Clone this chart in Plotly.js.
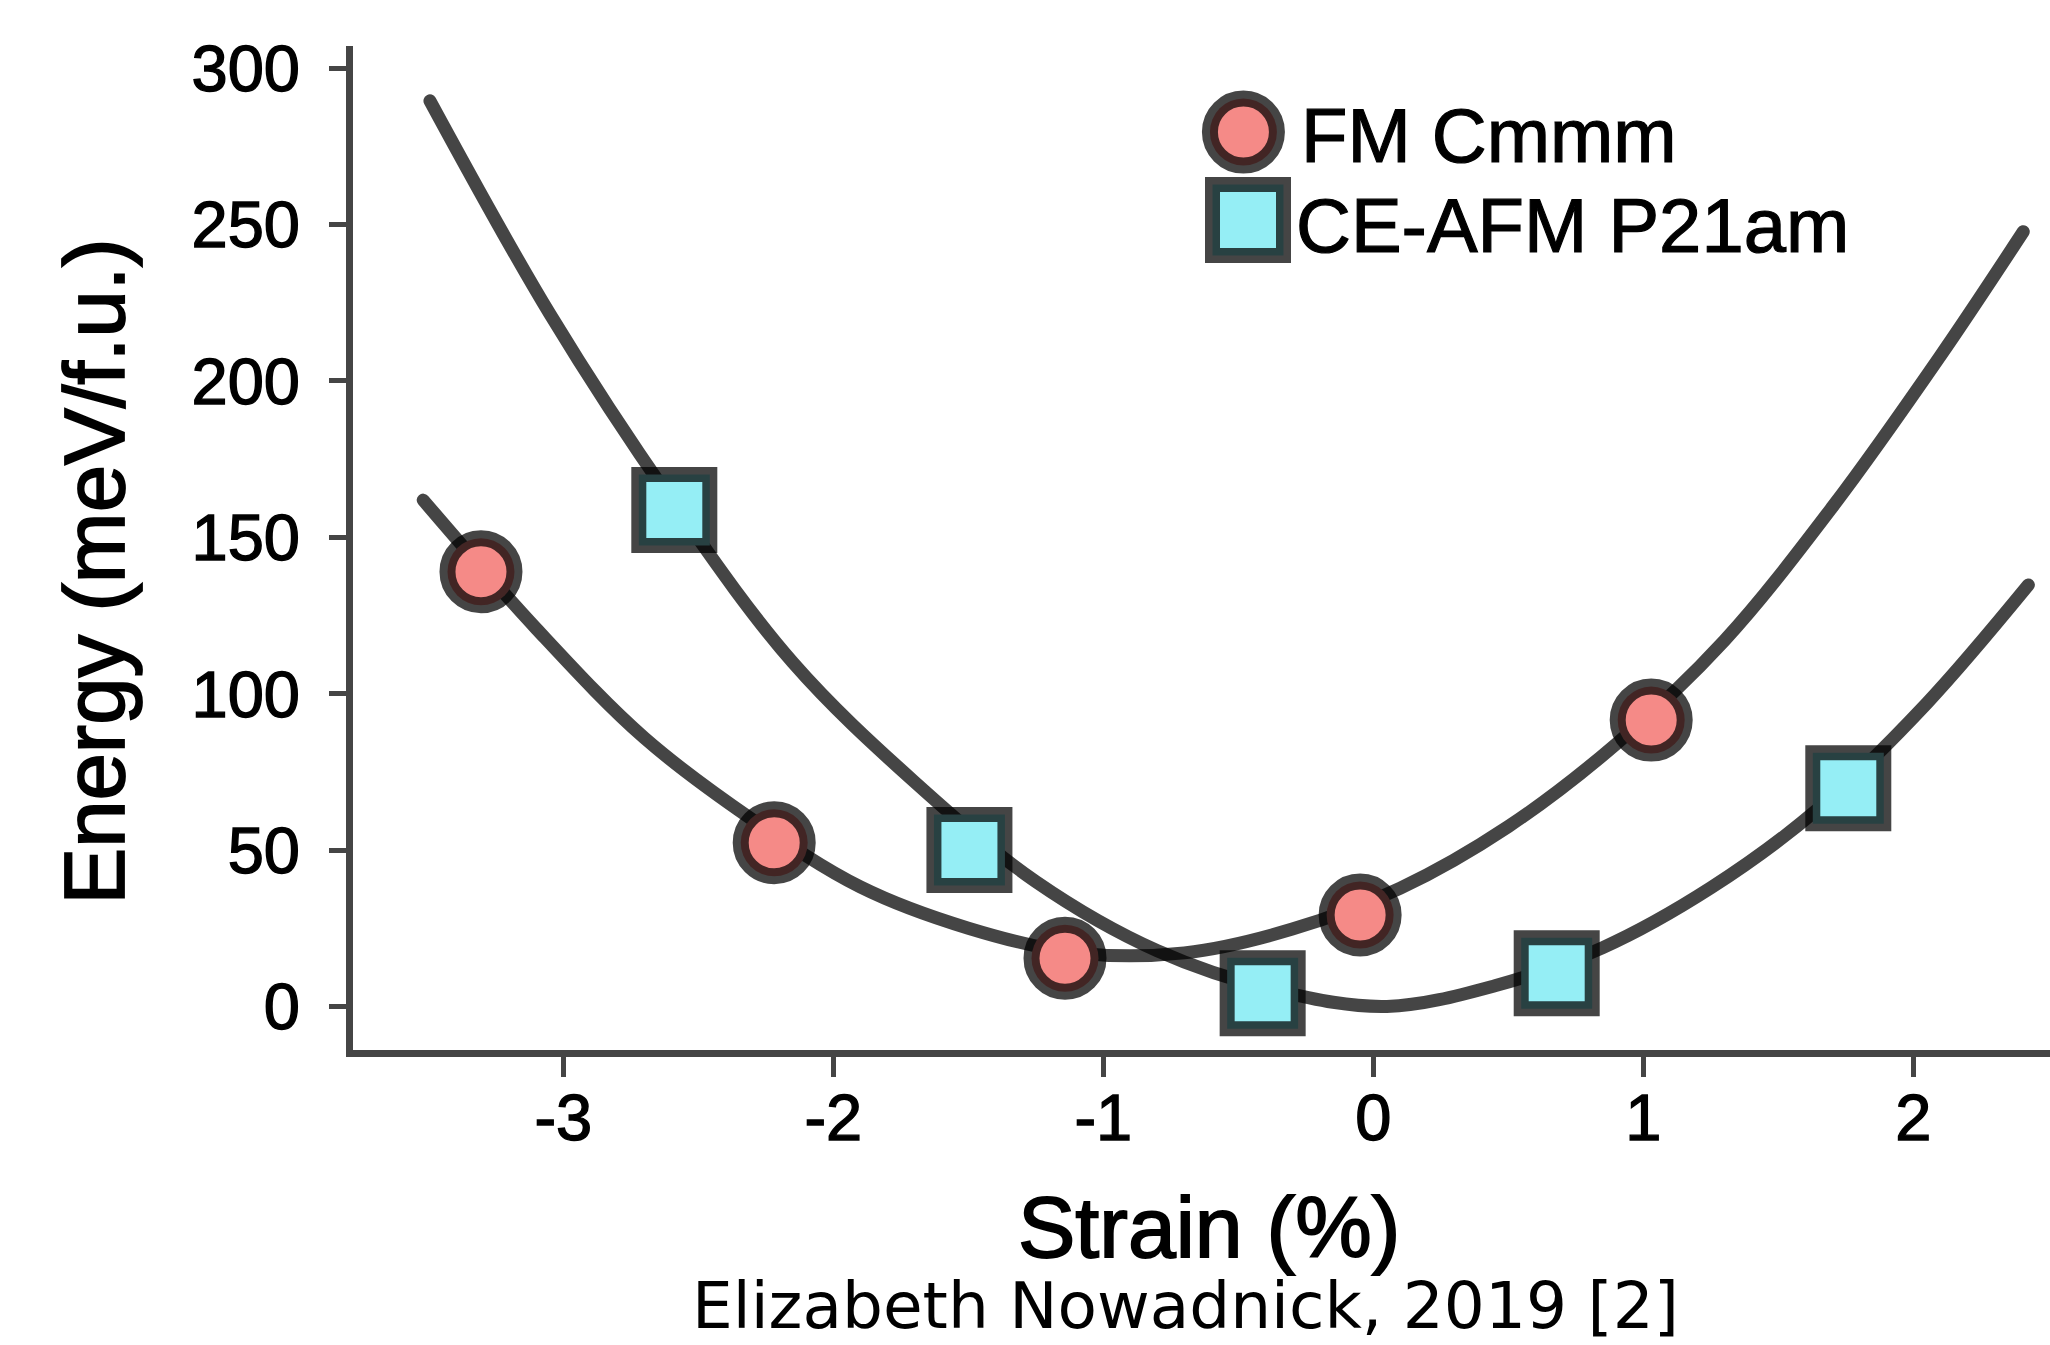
<!DOCTYPE html>
<html>
<head>
<meta charset="utf-8">
<script src="https://cdn.plot.ly/plotly-3.0.1.min.js"></script>
<style>
  html, body { margin: 0; padding: 0; background: #ffffff; }
  #chart { width: 2050px; height: 1345px; }
  /* the reference type is a little heavier than regular Liberation Sans */
  #chart .xtick text, #chart .ytick text { stroke: #000; stroke-width: 1.4px; }
  #chart .annotation[data-index="0"] text,
  #chart .annotation[data-index="1"] text { stroke: #000; stroke-width: 1.8px; }
  #chart .annotation[data-index="3"] text,
  #chart .annotation[data-index="4"] text { stroke: #000; stroke-width: 1.2px; }
  /* rounded ends on the fitted curves, as in the reference */
  #chart .scatterlayer .js-line { stroke-linecap: round; stroke-linejoin: round; }
</style>
</head>
<body>
<div id="chart"></div>
<script>
// ---- data ----
const seriesNames = ['FM Cmmm', 'CE-AFM P21am'];

const strainFM = [-3.305, -2.219, -1.142, -0.049, 1.029];
const energyFM = [139.0, 52.4, 15.5, 29.3, 91.6];

const strainAFM = [-2.589, -1.496, -0.410, 0.679, 1.759];
const energyAFM = [158.7, 50.1, 4.3, 10.7, 69.8];

// fitted curves
const fitStrainFM = [-3.519, -3.10, -2.70, -2.30, -1.90, -1.50, -1.10, -0.70, -0.30, 0.10, 0.50, 0.90, 1.30, 1.70, 2.10, 2.407];
const fitEnergyFM = [161.9, 120.8, 85.9, 59.8, 38.3, 25.1, 17.2, 17.2, 24.8, 37.9, 57.6, 84.0, 117.0, 159.7, 208.0, 247.7];

const fitStrainAFM = [-3.494, -3.05, -2.60, -2.15, -1.70, -1.25, -0.80, -0.35, 0.05, 0.45, 0.85, 1.25, 1.65, 2.05, 2.426];
const fitEnergyAFM = [289.5, 221.4, 161.9, 110.0, 71.9, 40.0, 17.9, 5.0, 0.1, 6.7, 18.9, 38.0, 63.4, 97.0, 134.8];

const xTickVals = [-3, -2, -1, 0, 1, 2];
const xTickText = ['-3', '-2', '-1', '0', '1', '2'];
const yTickVals = [0, 50, 100, 150, 200, 250, 300];
const yTickText = ['0', '50', '100', '150', '200', '250', '300'];

const xTitle = 'Strain (%)';
const yTitle = 'Energy (meV/f.u.)';
const caption = 'Elizabeth Nowadnick, 2019 [2]';

// legend key positions (paper fractions) for the drawn legend
const legendKeyX = [0.5247, 0.5274];
const legendKeyY = [0.9143, 0.8267];

// ---- styling ----
const FONT = '"Liberation Sans", Arial, Helvetica, sans-serif';
const INK = 'rgba(0,0,0,0.73)';
const AXIS = '#454545';
const FM_FILL = '#F58A87';
const AFM_FILL = '#95EEF5';

const traces = [
  { x: fitStrainFM, y: fitEnergyFM, mode: 'lines', type: 'scatter',
    line: { color: INK, width: 13, shape: 'spline', smoothing: 1 }, hoverinfo: 'skip' },
  { x: fitStrainAFM, y: fitEnergyAFM, mode: 'lines', type: 'scatter',
    line: { color: INK, width: 13, shape: 'spline', smoothing: 1 }, hoverinfo: 'skip' },
  { x: strainFM, y: energyFM, mode: 'markers', type: 'scatter', name: seriesNames[0],
    marker: { symbol: 'circle', size: 67, color: FM_FILL, line: { color: INK, width: 16 } } },
  { x: strainAFM, y: energyAFM, mode: 'markers', type: 'scatter', name: seriesNames[1],
    marker: { symbol: 'square', size: 71, color: AFM_FILL, line: { color: INK, width: 15 } } },
  // legend keys, on a hidden 0..1 overlay axis pair
  { x: [legendKeyX[0]], y: [legendKeyY[0]], xaxis: 'x2', yaxis: 'y2', mode: 'markers', type: 'scatter',
    marker: { symbol: 'circle', size: 67, color: FM_FILL, line: { color: INK, width: 16 } }, hoverinfo: 'skip', cliponaxis: false },
  { x: [legendKeyX[1]], y: [legendKeyY[1]], xaxis: 'x2', yaxis: 'y2', mode: 'markers', type: 'scatter',
    marker: { symbol: 'square', size: 71, color: AFM_FILL, line: { color: INK, width: 15 } }, hoverinfo: 'skip', cliponaxis: false }
];

const axisCommon = {
  showline: true, linecolor: AXIS, linewidth: 7,
  ticks: 'outside', tickcolor: AXIS, tickwidth: 5,
  tickfont: { family: FONT, size: 65, color: '#000000' },
  showgrid: false, zeroline: false, fixedrange: true
};

const layout = {
  width: 2050, height: 1345,
  margin: { l: 353, r: 0, t: 46, b: 295, pad: 0 },
  paper_bgcolor: '#ffffff', plot_bgcolor: '#ffffff',
  showlegend: false,
  xaxis: Object.assign({}, axisCommon, {
    range: [-3.779, 2.506], tickmode: 'array', tickvals: xTickVals, ticktext: xTickText,
    ticklen: 20, ticklabelstandoff: -15
  }),
  yaxis: Object.assign({}, axisCommon, {
    range: [-13.84, 307.03], tickmode: 'array', tickvals: yTickVals, ticktext: yTickText,
    ticklen: 17, ticklabelstandoff: 16
  }),
  xaxis2: { overlaying: 'x', anchor: 'y2', range: [0, 1], visible: false, fixedrange: true },
  yaxis2: { overlaying: 'y', anchor: 'x2', range: [0, 1], visible: false, fixedrange: true },
  annotations: [
    { text: xTitle, xref: 'paper', yref: 'paper', x: 0.5047, y: -0.1763, xanchor: 'center', yanchor: 'middle',
      showarrow: false, font: { family: FONT, size: 86, color: '#000000' } },
    { text: yTitle, xref: 'paper', yref: 'paper', x: -0.1518, y: 0.4771, xanchor: 'center', yanchor: 'middle',
      textangle: -90, showarrow: false, font: { family: FONT, size: 85, color: '#000000' } },
    { text: caption, xref: 'paper', yref: 'paper', x: 0.4906, y: -0.2545, xanchor: 'center', yanchor: 'middle',
      showarrow: false, font: { family: '"DejaVu Sans", Verdana, sans-serif', size: 64.5, color: '#000000' } },
    { text: seriesNames[0], xref: 'paper', yref: 'paper', x: 0.5575, y: 0.911, xanchor: 'left', yanchor: 'middle',
      showarrow: false, font: { family: FONT, size: 76, color: '#000000' } },
    { text: seriesNames[1], xref: 'paper', yref: 'paper', x: 0.5545, y: 0.8213, xanchor: 'left', yanchor: 'middle',
      showarrow: false, font: { family: FONT, size: 76, color: '#000000' } }
  ]
};

Plotly.newPlot('chart', traces, layout, { staticPlot: true, displayModeBar: false });
</script>
</body>
</html>
